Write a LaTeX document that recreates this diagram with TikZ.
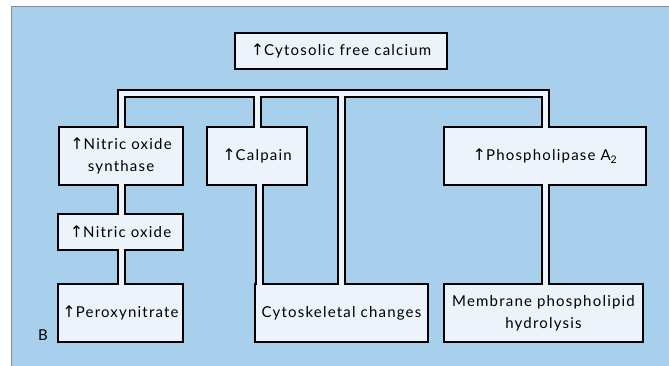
\documentclass[tikz,border=0pt]{standalone}
\usepackage{fontspec}
\setmainfont[LetterSpace=8]{Lato}
\newfontfamily\arrfont{DejaVu Sans}
\usetikzlibrary{backgrounds}
\definecolor{bgblue}{RGB}{168,208,236}
\definecolor{boxfill}{RGB}{236,243,251}
\definecolor{framegray}{RGB}{140,140,140}
\newcommand{\myup}{{\arrfont\fontsize{16}{16}\selectfont\char"2191}}
\begin{document}
\begin{tikzpicture}[x=1pt,y=-1pt,
  box/.style={draw=black, line width=1.8pt, fill=boxfill, outer sep=0pt, inner sep=0pt,
    align=center, font=\fontsize{15}{22}\selectfont},
  pipeblack/.style={draw=black, line width=9pt, line join=miter},
  pipewhite/.style={draw=boxfill, line width=5pt, line join=miter},
  lbl/.style={font=\fontsize{15}{16}\selectfont, inner sep=0pt}]
\useasboundingbox (0,0) rectangle (669,366);
% boxes
\node[box, minimum width=212pt, minimum height=36pt] (top) at (341,51) {\myup Cytosolic free calcium};
\node[box, minimum width=124pt, minimum height=58pt] (nos) at (121,156) {\myup Nitric oxide\\synthase};
\node[box, minimum width=100pt, minimum height=58pt] (calpain) at (257,156) {\myup Calpain};
\node[box, minimum width=202pt, minimum height=58pt] (pla) at (545,156) {\myup Phospholipase A\textsubscript{2}};
\node[box, minimum width=125pt, minimum height=36pt] (no) at (120.5,232) {\myup Nitric oxide};
\node[box, minimum width=125pt, minimum height=58pt] (perox) at (120.5,313) {\myup Peroxynitrate};
\node[box, minimum width=173pt, minimum height=58pt] (cyto) at (341.5,313) {Cytoskeletal changes};
\node[box, minimum width=199pt, minimum height=58pt] (mem) at (543.5,313) {Membrane phospholipid\\hydrolysis};
\node[lbl] (blabel) at (43,335) {B};
\coordinate (bar) at (0,93.5);
\coordinate (calx) at ([xshift=4.5pt]cyto.north west);
\begin{scope}[on background layer]
  \draw[framegray, line width=1pt, fill=bgblue] (11,7) rectangle (676,374);
  \draw[pipeblack] (nos.north) -- (nos.north |- bar) -- (pla.north |- bar) -- (pla.north);
  \draw[pipeblack] (calpain.north) -- (calpain.north |- bar);
  \draw[pipeblack] (cyto.north) -- (cyto.north |- bar);
  \draw[pipeblack] (nos.south) -- (nos.south |- no.north);
  \draw[pipeblack] (nos.south |- no.south) -- (nos.south |- perox.north);
  \draw[pipeblack] (calx |- calpain.south) -- (calx);
  \draw[pipeblack] (pla.south) -- (pla.south |- mem.north);
\end{scope}
\draw[pipewhite, shorten <=-3pt, shorten >=-3pt] (nos.north) -- (nos.north |- bar) -- (pla.north |- bar) -- (pla.north);
\draw[pipewhite, shorten <=-3pt] (calpain.north) -- (calpain.north |- bar);
\draw[pipewhite, shorten <=-3pt] (cyto.north) -- (cyto.north |- bar);
\draw[pipewhite, shorten <=-3pt, shorten >=-3pt] (nos.south) -- (nos.south |- no.north);
\draw[pipewhite, shorten <=-3pt, shorten >=-3pt] (nos.south |- no.south) -- (nos.south |- perox.north);
\draw[pipewhite, shorten <=-3pt, shorten >=-3pt] (calx |- calpain.south) -- (calx);
\draw[pipewhite, shorten <=-3pt, shorten >=-3pt] (pla.south) -- (pla.south |- mem.north);
\end{tikzpicture}
\end{document}
